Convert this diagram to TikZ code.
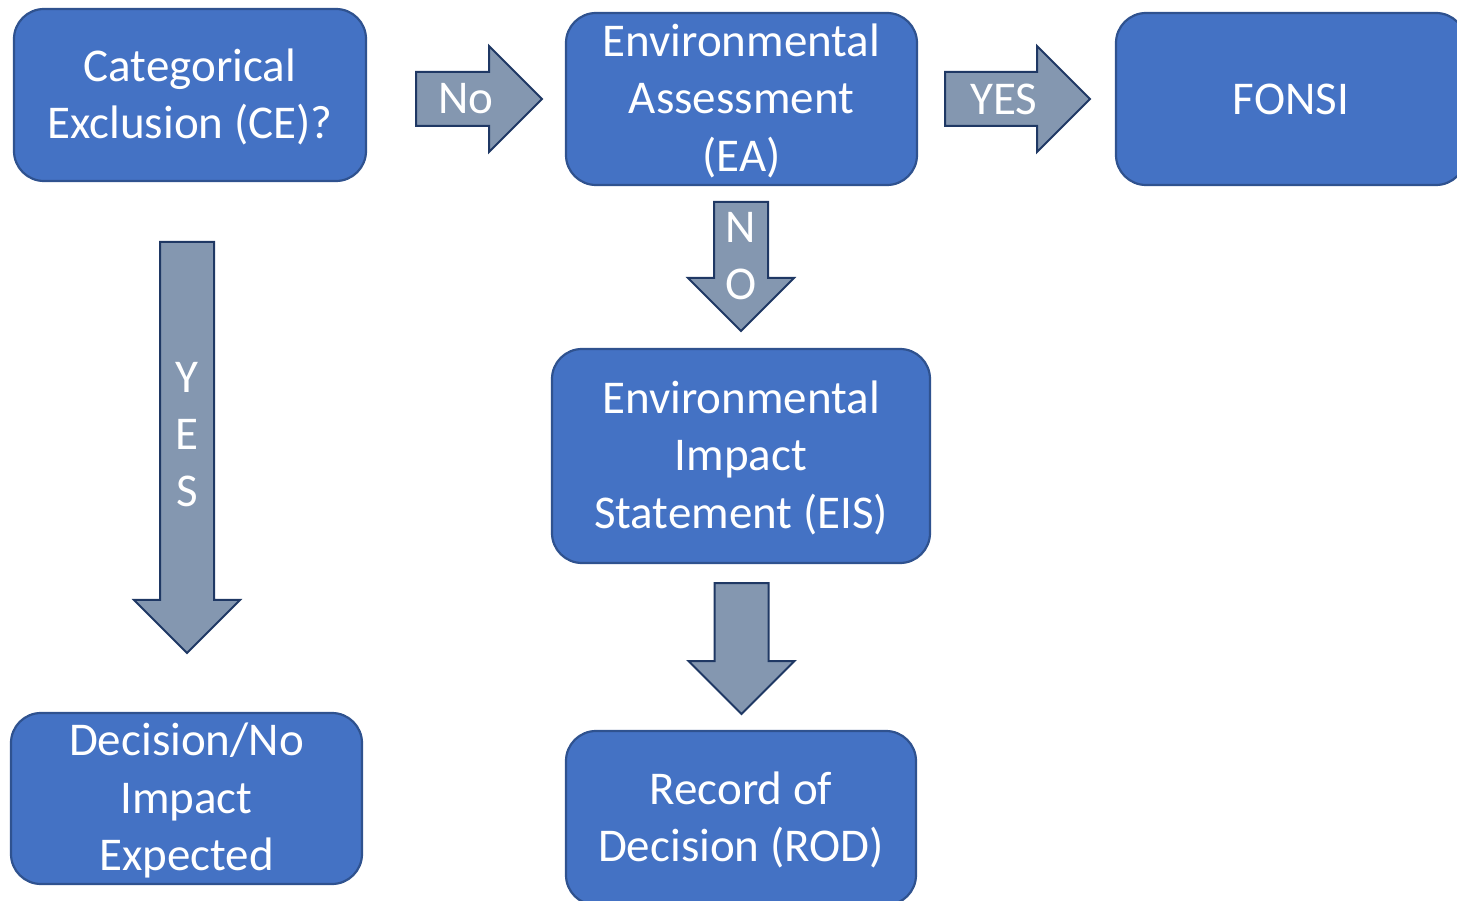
\documentclass[tikz,border=0pt]{standalone}
\usepackage{fontspec}
\setmainfont{Carlito}
\usetikzlibrary{shapes.arrows}
\definecolor{boxblue}{HTML}{4472C4}
\definecolor{boxline}{HTML}{2F528F}
\definecolor{arrgray}{HTML}{8497B0}
\definecolor{arrline}{HTML}{1F3864}
\tikzset{
    stepbox/.style args={#1 #2}{
        draw=boxline, fill=boxblue, line width=2.2pt, rounded corners=30pt,
        minimum width=#1, minimum height=#2, inner sep=0pt,
        text=white, align=center, font=\fontsize{47}{57.5}\selectfont
    },
    textdown/.style={text depth=3pt},
    bigarrow/.style={
        single arrow, draw=arrline, fill=arrgray, line width=2pt,
        inner xsep=0pt, inner ysep=26pt, single arrow head extend=26pt,
        single arrow tip angle=90, anchor=tail
    },
    arrowtext/.style={
        text=white, align=center, inner sep=0pt, font=\fontsize{47}{57}\selectfont
    }
}
\begin{document}
\begin{tikzpicture}[x=1pt, y=-1pt]
    \useasboundingbox (0,0) rectangle (1457,901);
    % boxes
    \node[stepbox={352pt 172pt}, textdown] (ce) at (190,95) {Categorical\\Exclusion (CE)?};
    \node[stepbox={351pt 172pt}, textdown] (ea) at (741.5,99) {Environmental\\Assessment\\(EA)};
    \node[stepbox={350pt 172pt}] (fonsi) at (1291,99) {FONSI};
    \node[stepbox={378pt 214pt}, textdown] (eis) at (741,456) {Environmental\\Impact\\Statement (EIS)};
    \node[stepbox={350pt 174pt}, textdown] (rod) at (741,818) {Record of\\Decision (ROD)};
    \node[stepbox={351pt 171pt}, textdown] (dec) at (186.5,798.5) {Decision/No\\Impact\\Expected};
    % block arrows (placed by their tails)
    \node[bigarrow, minimum height=126pt] (aNo) at (415,99) {};
    \node[bigarrow, minimum height=145pt] (aYes) at (944,99) {};
    \node[bigarrow, minimum height=129pt, rotate=-90] (aNO) at (741,201) {};
    \node[bigarrow, minimum height=411pt, rotate=-90] (aYES) at (187,241) {};
    \node[bigarrow, minimum height=131pt, rotate=-90] (aDown) at (741.5,582) {};
    % arrow labels
    \node[arrowtext] (tNo) at (466,99) {No};
    \node[arrowtext] (tYes) at (1004,99) {YES};
    \node[arrowtext] (tNO) at (741,256) {N\\O};
    \node[arrowtext] (tYES) at (187,435) {Y\\E\\S};
\end{tikzpicture}
\end{document}
